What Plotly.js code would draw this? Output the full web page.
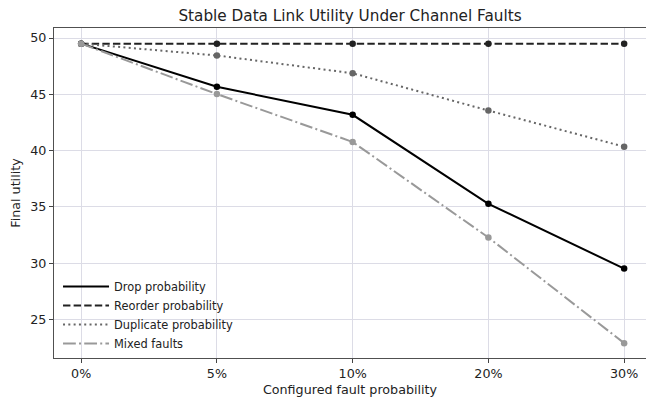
<!DOCTYPE html>
<html>
<head>
<meta charset="utf-8">
<script src="https://cdn.plot.ly/plotly-3.0.1.min.js"></script>
<style>html,body{margin:0;padding:0;background:#fff;}#chart{width:646px;height:402px;}</style>
</head>
<body>
<div id="chart"></div>
<script>
const categories = ["0%", "5%", "10%", "20%", "30%"];
const dropProbability = [49.5, 45.67, 43.18, 35.27, 29.52];
const reorderProbability = [49.5, 49.5, 49.5, 49.5, 49.5];
const duplicateProbability = [49.5, 48.45, 46.87, 43.56, 40.35];
const mixedFaults = [49.5, 45.02, 40.77, 32.28, 22.9];
const seriesNames = ["Drop probability", "Reorder probability", "Duplicate probability", "Mixed faults"];
const yTicks = [25, 30, 35, 40, 45, 50];

const styles = [
  {color: "#000000", dash: "solid"},
  {color: "#222222", dash: "7.4px,3.2px"},
  {color: "#666666", dash: "2px,3.3px"},
  {color: "#999999", dash: "12.8px,3.2px,2px,3.2px"}
];
const seriesValues = [dropProbability, reorderProbability, duplicateProbability, mixedFaults];

const lineTraces = seriesValues.map((vals, i) => ({
  type: "scatter",
  mode: "lines",
  x: categories,
  y: vals,
  name: seriesNames[i],
  legendgroup: "g" + i,
  line: {color: styles[i].color, width: 2, dash: styles[i].dash}
}));
const markerTraces = seriesValues.map((vals, i) => ({
  type: "scatter",
  mode: "markers",
  x: categories,
  y: vals,
  name: seriesNames[i],
  legendgroup: "g" + i,
  showlegend: false,
  marker: {color: styles[i].color, size: 6.5, symbol: "circle"}
}));
const traces = [];
for (let i = 0; i < seriesValues.length; i++) { traces.push(lineTraces[i]); traces.push(markerTraces[i]); }

const layout = {
  width: 646,
  height: 402,
  margin: {l: 54, r: 0, t: 28, b: 44},
  paper_bgcolor: "#ffffff",
  plot_bgcolor: "#ffffff",
  font: {family: "DejaVu Sans, sans-serif", color: "#222222", size: 12.7},
  title: {
    text: "Stable Data Link Utility Under Channel Faults",
    font: {size: 15.25, color: "#222222"},
    x: 0.5, xref: "paper", xanchor: "center",
    y: 1 - 16/402, yref: "container", yanchor: "middle"
  },
  xaxis: {
    type: "category",
    range: [-0.2, 4.161],
    showgrid: true, gridcolor: "#dcdce6", gridwidth: 1,
    showline: true, linecolor: "#505050", linewidth: 1, mirror: true,
    ticks: "outside", ticklen: 4, tickcolor: "#444444",
    tickfont: {size: 12.7},
    zeroline: false,
    title: {text: "Configured fault probability", font: {size: 12.7}, standoff: 4}
  },
  yaxis: {
    range: [21.58, 50.89],
    tickvals: yTicks,
    showgrid: true, gridcolor: "#dcdce6", gridwidth: 1,
    showline: true, linecolor: "#505050", linewidth: 1,
    ticks: "outside", ticklen: 4, tickcolor: "#444444",
    tickfont: {size: 12.7},
    zeroline: false,
    title: {text: "Final utility", font: {size: 12.7}, standoff: 6}
  },
  legend: {
    x: 0.0068, y: 0.0, xanchor: "left", yanchor: "bottom",
    bgcolor: "rgba(255,255,255,0)", borderwidth: 0,
    font: {size: 11.4, color: "#222222"},
    itemwidth: 46,
    tracegroupgap: 0
  },
  showlegend: true
};

Plotly.newPlot("chart", traces, layout, {staticPlot: true, displayModeBar: false});
</script>
</body>
</html>
